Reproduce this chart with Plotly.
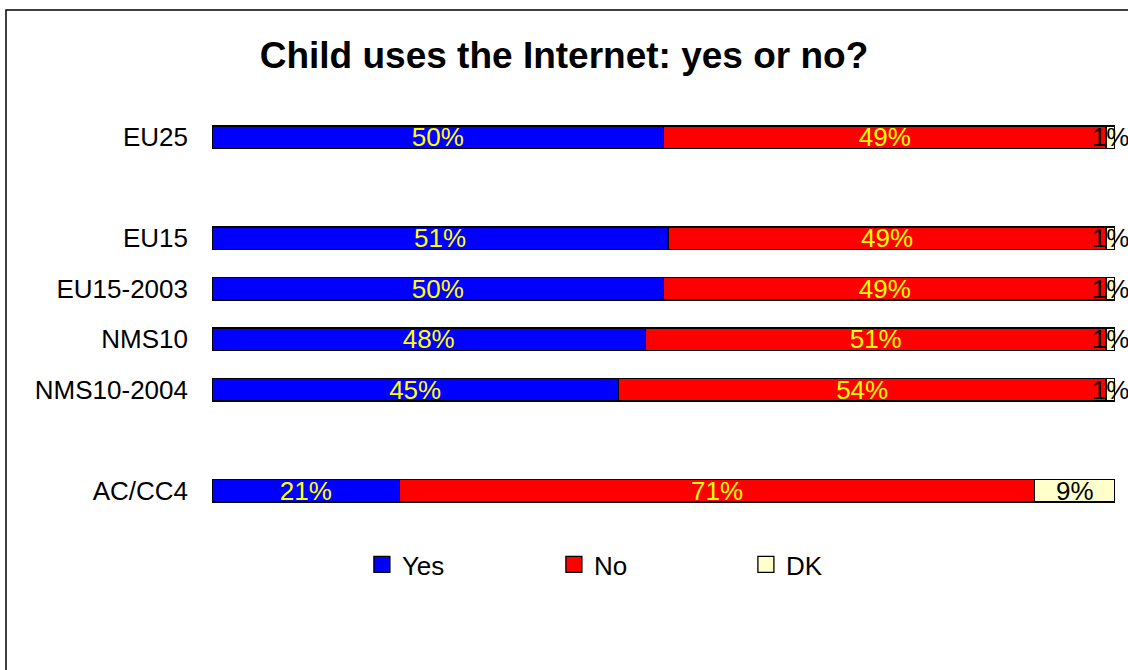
import plotly.graph_objects as go

categories = ["EU25", "EU15", "EU15-2003", "NMS10", "NMS10-2004", "AC/CC4"]
yes_vals = [50, 51, 50, 48, 45, 21]
no_vals = [49, 49, 49, 51, 54, 71]
dk_vals = [1, 1, 1, 1, 1, 9]
series_names = ["Yes", "No", "DK"]

# row slots (gaps after EU25 and NMS10-2004)
row_pos = [0, 2, 3, 4, 5, 7]

colors = ["#0000FF", "#FF0000", "#FFFFCC"]
text_colors = ["#FFFF00", "#FFFF00", "#000000"]
FONT = "Arial, Liberation Sans, sans-serif"

fig = go.Figure()
for name, vals, col, tcol in zip(series_names, [yes_vals, no_vals, dk_vals], colors, text_colors):
    fig.add_trace(go.Bar(
        name=name, y=row_pos, x=vals, orientation="h",
        marker=dict(color=col, line=dict(color="black", width=1.3)),
        text=[f"{v}%" for v in vals], textposition="inside", textangle=0,
        insidetextanchor="middle", constraintext="none",
        textfont=dict(color=tcol, size=26, family=FONT),
        cliponaxis=False, showlegend=False,
    ))

# legend entries (larger square swatches)
for name, col in zip(series_names, colors):
    fig.add_trace(go.Scatter(
        name=name, x=[None], y=[None], mode="markers",
        marker=dict(symbol="square", size=16, color=col, line=dict(color="black", width=1.3)),
        showlegend=True,
    ))

fig.update_layout(
    barmode="stack", barnorm="percent", bargap=0.56,
    width=1128, height=670,
    margin=dict(l=212, r=13, t=112, b=154),
    plot_bgcolor="white", paper_bgcolor="white",
    font=dict(family=FONT, size=26, color="black"),
    uniformtext=dict(minsize=26, mode="show"),
    title=dict(text="<b>Child uses the Internet: yes or no?</b>", x=0.5, xanchor="center",
               y=1 - 55 / 670, yanchor="middle",
               font=dict(size=37, family=FONT, color="black")),
    xaxis=dict(range=[0, 100], visible=False, fixedrange=True),
    yaxis=dict(range=[7.5, -0.5], tickvals=row_pos, ticktext=categories,
               showgrid=False, zeroline=False, showline=False, ticks="",
               ticklabelstandoff=23, tickfont=dict(size=26)),
    showlegend=True,
    legend=dict(orientation="h", x=0.166, xanchor="left", y=-0.12, yanchor="middle",
                entrywidth=147, entrywidthmode="pixels", traceorder="normal",
                font=dict(size=26), itemsizing="trace"),
    shapes=[dict(type="rect", xref="paper", yref="paper",
                 x0=(6 - 212) / 903, x1=1.2, y0=-0.6, y1=(516.3 - 9.5) / 404.6,
                 line=dict(color="black", width=1.5), layer="below")],
)

fig.write_html("out.html")
